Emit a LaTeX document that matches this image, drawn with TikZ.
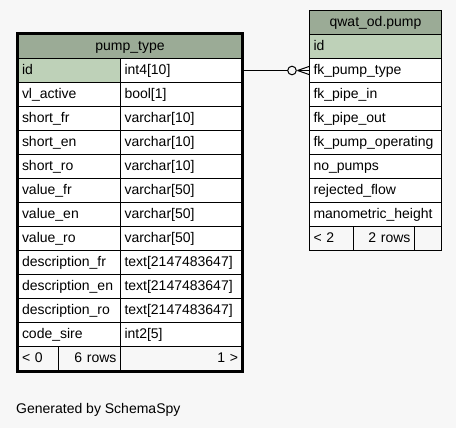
\documentclass[tikz,border=0pt]{standalone}
\usepackage{fontspec}
\setmainfont{Liberation Sans}
\usepackage{xcolor}
\usepackage{tikz}
\usetikzlibrary{calc}
\definecolor{clrHead}{HTML}{9BAB96}
\definecolor{clrKey}{HTML}{BED1B8}
\definecolor{clrBack}{HTML}{F7F7F7}
\tikzstyle{tsText} = [ 
    text=black, 
    font=\fontsize{14}{16}\selectfont,
    text height=11pt,
    text depth=2.5pt
]
\tikzstyle{tsCell} = [ 
    rectangle,
    tsText,
    draw=black,
    line width=1pt,
    fill=white,
    minimum height=24pt,
    inner xsep=4pt,
    inner ysep=0pt,
    anchor=north west,
    align=left]
\tikzstyle{tsHead} = [tsCell, fill=clrHead, align=center]
\tikzstyle{tsKey} = [tsCell, fill=clrKey]
\tikzstyle{tsFoot} = [tsCell, fill=clrBack]
\tikzstyle{tsColA} = [text width=94.5pt]
\tikzstyle{tsColB} = [text width=113.5pt]
\tikzstyle{tsColR} = [text width=124pt]

\begin{document}
\begin{tikzpicture}[x=1pt, y=-1pt]

        \fill[clrBack] (0,0) rectangle (456,428);
        \useasboundingbox (0,0) rectangle (456,428);

        % table pump_type
        \node[tsHead, text width=216pt] (ptHead) at (17.5,34) {pump\_type};

        \node[tsKey, tsColA] (ptId) at (17.5,58) {id};
        \node[tsCell, tsColB] (ptIdT) at (120,58) {int4[10]};
        \node[tsCell, tsColA] (ptActive) at (17.5,82) {vl\_active};
        \node[tsCell, tsColB] (ptActiveT) at (120,82) {bool[1]};
        \node[tsCell, tsColA] (ptShortFr) at (17.5,106) {short\_fr};
        \node[tsCell, tsColB] (ptShortFrT) at (120,106) {varchar[10]};
        \node[tsCell, tsColA] (ptShortEn) at (17.5,130) {short\_en};
        \node[tsCell, tsColB] (ptShortEnT) at (120,130) {varchar[10]};
        \node[tsCell, tsColA] (ptShortRo) at (17.5,154) {short\_ro};
        \node[tsCell, tsColB] (ptShortRoT) at (120,154) {varchar[10]};
        \node[tsCell, tsColA] (ptValueFr) at (17.5,178) {value\_fr};
        \node[tsCell, tsColB] (ptValueFrT) at (120,178) {varchar[50]};
        \node[tsCell, tsColA] (ptValueEn) at (17.5,202) {value\_en};
        \node[tsCell, tsColB] (ptValueEnT) at (120,202) {varchar[50]};
        \node[tsCell, tsColA] (ptValueRo) at (17.5,226) {value\_ro};
        \node[tsCell, tsColB] (ptValueRoT) at (120,226) {varchar[50]};
        \node[tsCell, tsColA] (ptDescFr) at (17.5,250) {description\_fr};
        \node[tsCell, tsColB] (ptDescFrT) at (120,250) {text[2147483647]};
        \node[tsCell, tsColA] (ptDescEn) at (17.5,274) {description\_en};
        \node[tsCell, tsColB] (ptDescEnT) at (120,274) {text[2147483647]};
        \node[tsCell, tsColA] (ptDescRo) at (17.5,298) {description\_ro};
        \node[tsCell, tsColB] (ptDescRoT) at (120,298) {text[2147483647]};
        \node[tsCell, tsColA] (ptSire) at (17.5,322) {code\_sire};
        \node[tsCell, tsColB] (ptSireT) at (120,322) {int2[5]};

        \node[tsFoot, text width=32.5pt] (ptFootL) at (17.5,346) {< 0};
        \node[tsFoot, text width=54pt, align=right] (ptFootM) at (58,346) {6 rows};
        \node[tsFoot, tsColB, align=right] (ptFootR) at (120,346) {1 >};

        \draw[line width=3pt] (ptHead.north west) rectangle (ptFootR.south east);

        % table qwat_od.pump
        \node[tsHead, tsColR] (puHead) at (309,10) {qwat\_od.pump};
        \node[tsKey, tsColR] (puId) at (309,34) {id};
        \node[tsCell, tsColR] (puFkType) at (309,58) {fk\_pump\_type};
        \node[tsCell, tsColR] (puPipeIn) at (309,82) {fk\_pipe\_in};
        \node[tsCell, tsColR] (puPipeOut) at (309,106) {fk\_pipe\_out};
        \node[tsCell, tsColR] (puOperating) at (309,130) {fk\_pump\_operating};
        \node[tsCell, tsColR] (puNumber) at (309,154) {no\_pumps};
        \node[tsCell, tsColR] (puFlow) at (309,178) {rejected\_flow};
        \node[tsCell, tsColR] (puHeight) at (309,202) {manometric\_height};
        \node[tsFoot, text width=36pt] (puFootL) at (309,226) {< 2};
        \node[tsFoot, text width=53pt, align=right] (puFootM) at (353,226) {2 rows};
        \node[tsFoot, text width=19pt] (puFootR) at (414,226) { };

        % relation
        \coordinate (crowTip) at ($(puFkType.west)+(-11.5,0)$);
        \draw[line width=1pt] (ptIdT.east) -- ($(puFkType.west)+(-21.3,0)$);
        \draw[line width=1pt] ($(puFkType.west)+(-17,0)$) circle (4.3);
        \draw[line width=1pt] (crowTip) -- ($(puFkType.west)+(0,-4)$);
        \draw[line width=1pt] (crowTip) -- ($(puFkType.west)+(0,4)$);
        \draw[line width=1pt] (crowTip) -- (puFkType.west);

        \node[tsText, anchor=base west, inner sep=0pt] (credit) at (16,413) {Generated by SchemaSpy};

\end{tikzpicture}
\end{document}
